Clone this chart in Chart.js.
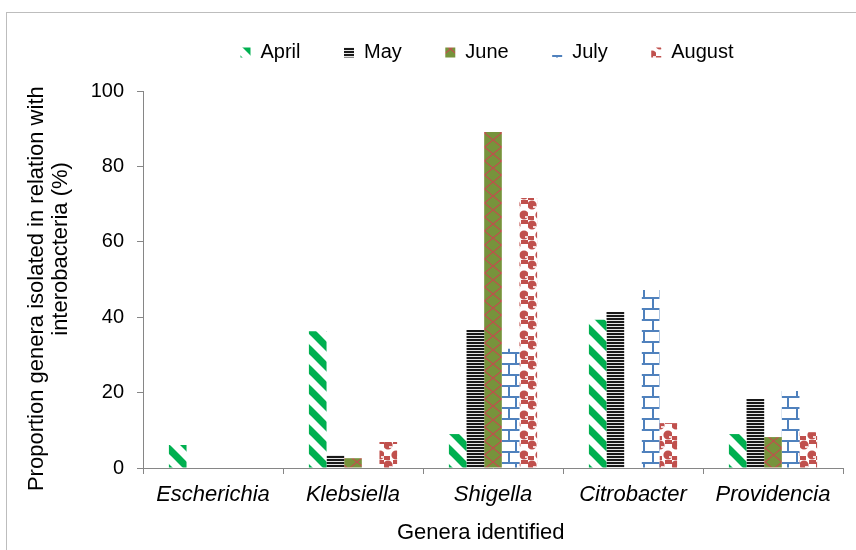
<!DOCTYPE html>
<html>
<head>
<meta charset="utf-8">
<script src="https://cdn.jsdelivr.net/npm/chart.js@4/dist/chart.umd.min.js"></script>
<style>
  body { margin: 0; background: #fff; }
  #wrap { position: relative; width: 856px; height: 550px; overflow: hidden; }
  #frame { position: absolute; left: 6px; top: 12px; width: 860px; height: 560px; border: 1px solid #bdbdbd; }
  canvas { position: absolute; left: 0; top: 0; }
</style>
</head>
<body>
<div id="wrap">
  <div id="frame"></div>
  <canvas id="js--chart" width="856" height="550"></canvas>
</div>
<script>
// data
const genera = ["Escherichia", "Klebsiella", "Shigella", "Citrobacter", "Providencia"];
const months = ["April", "May", "June", "July", "August"];
const april = [6.1, 36.3, 9.0, 39.3, 9.0];
const may = [0, 3.4, 36.6, 41.4, 18.3];
const june = [0, 2.6, 89.1, 0, 8.2];
const july = [0, 0, 31.6, 47.2, 20.4];
const august = [0, 6.9, 71.6, 11.9, 9.5];
const yTicks = [0, 20, 40, 60, 80, 100];

// small canvas tiles used as fill patterns
function makePattern(w, h, draw) {
    const c = document.createElement("canvas");
    c.width = w;
    c.height = h;
    const g = c.getContext("2d");
    draw(g, w, h);
    return g.createPattern(c, "repeat");
}

const aprilFill = makePattern(20, 20, function(g, w, h){
    g.fillStyle = "#fff";
    g.fillRect(0, 0, w, h);
    g.strokeStyle = "#00b050";
    g.lineWidth = 7;
    for (let k = -1; k <= 1; k++) {
        g.beginPath();
        g.moveTo(k * w - 5, -5);
        g.lineTo(k * w + w + 5, h + 5);
        g.stroke();
    }
});

const mayFill = makePattern(4, 3, function(g, w, h){
    g.fillStyle = "#e6e6e6";
    g.fillRect(0, 0, w, h);
    g.fillStyle = "#1a1a1a";
    g.fillRect(0, 0, w, 2);
});

const juneFill = makePattern(17, 14, function(g, w, h){
    g.fillStyle = "#77933c";
    g.fillRect(0, 0, w, h);
    g.strokeStyle = "#c0504d";
    g.lineWidth = 1.2;
    g.beginPath();
    g.moveTo(0, 0); g.lineTo(w, h);
    g.moveTo(w, 0); g.lineTo(0, h);
    g.stroke();
});

const julyFill = makePattern(16, 22, function(g, w, h){
    g.fillStyle = "#fff";
    g.fillRect(0, 0, w, h);
    g.fillStyle = "#4f81bd";
    g.fillRect(0, 0, w, 2);
    g.fillRect(0, 11, w, 2);
    g.fillRect(3, 0, 2, 11);
    g.fillRect(12, 11, 2, 11);
});

const augustFill = makePattern(16, 20, function(g, w, h){
    g.fillStyle = "#fff";
    g.fillRect(0, 0, w, h);
    g.fillStyle = "#c0504d";
    g.beginPath();
    g.arc(4, 5, 4.6, 0, Math.PI * 2);
    g.arc(12, 15, 4.6, 0, Math.PI * 2);
    g.fill();
    g.fillRect(9, 0, 7, 4);
    g.fillRect(0, 16, 6, 4);
    g.fillStyle = "#f4dede";
    g.fillRect(5, 6, 3, 2);
    g.fillRect(13, 16, 3, 2);
});

Chart.defaults.font.family = "'Liberation Sans', Arial, sans-serif";
Chart.defaults.font.size = 20;
Chart.defaults.color = "#000";

const data = {
    labels: genera,
    datasets: [
        { label: months[0], data: april, backgroundColor: aprilFill },
        { label: months[1], data: may, backgroundColor: mayFill },
        { label: months[2], data: june, backgroundColor: juneFill },
        { label: months[3], data: july, backgroundColor: julyFill },
        { label: months[4], data: august, backgroundColor: augustFill }
    ]
};

// legend sits higher and further right than chart.js would put it
const legendPlace = {
    id: "legendPlace",
    beforeInit(chart) {
        const fit = chart.legend.fit;
        chart.legend.fit = function(){
            fit.bind(chart.legend)();
            this.height = 91;
        };
    },
    afterLayout(chart) {
        chart.legend.left = 197;
        chart.legend.top = -1;
    }
};

const config = {
    type: "bar",
    data: data,
    options: {
        responsive: false,
        animation: false,
        layout: { padding: { left: 0, right: 13, top: 0, bottom: 0 } },
        datasets: {
            bar: { categoryPercentage: 0.63, barPercentage: 1, borderWidth: 0 }
        },
        plugins: {
            legend: {
                align: "start",
                labels: { boxWidth: 10, boxHeight: 10, padding: 43.5 }
            },
            tooltip: { enabled: false }
        },
        scales: {
            x: {
                grid: { display: true, drawOnChartArea: false, tickLength: 6, color: "#868686", offset: true },
                border: { color: "#868686" },
                ticks: { padding: 8, font: { size: 22, style: "italic" } },
                title: {
                    display: true,
                    text: "Genera identified    ",
                    padding: { top: 0, bottom: 5 },
                    font: { size: 22, lineHeight: 1.1 }
                },
                afterFit: function(scale){ scale.height = 82; }
            },
            y: {
                min: 0,
                max: 100,
                afterBuildTicks: function(scale){ scale.ticks = yTicks.map(function(v){ return { value: v }; }); },
                grid: { display: true, drawOnChartArea: false, tickLength: 6, color: "#868686" },
                border: { color: "#868686" },
                ticks: { padding: 13 },
                title: {
                    display: true,
                    text: ["Proportion genera isolated in relation with   ", "          interobacteria (%)"],
                    padding: { top: 25, bottom: 0 },
                    font: { size: 22, lineHeight: 1.1 }
                },
                afterFit: function(scale){ scale.width = 143; }
            }
        }
    },
    plugins: [legendPlace]
};

const chart1 = new Chart(document.getElementById("js--chart"), config);
</script>
</body>
</html>
